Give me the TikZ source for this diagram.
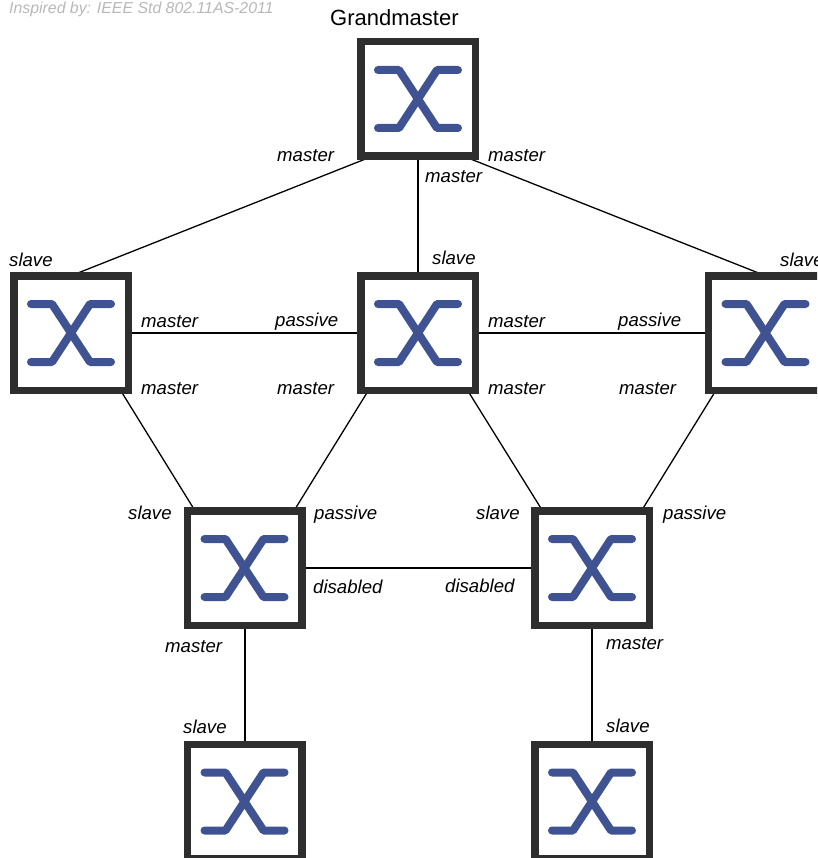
\documentclass[tikz,border=0pt]{standalone}
\usepackage{fontspec}
\setmainfont{Liberation Sans}
\usetikzlibrary{calc,backgrounds}
\definecolor{boxc}{HTML}{2E2E2E}
\definecolor{glyphc}{HTML}{3F5291}
\tikzset{
  swbox/.style={draw=boxc,fill=white,line width=7.5pt,minimum size=114.5pt,inner sep=0pt,outer sep=0pt,shape=rectangle},
  glyph/.style={draw=glyphc,line width=8pt,line cap=round,line join=round},
  thin link/.style={draw=black,line width=1.3pt},
  thick link/.style={draw=black,line width=2pt},
  lab/.style={anchor=base west,inner sep=0pt,font=\fontsize{18.6}{20}\selectfont\itshape},
  title/.style={anchor=base west,inner sep=0pt,font=\fontsize{22}{24}\selectfont},
  note/.style={anchor=base west,inner sep=0pt,text=black!28,font=\fontsize{15.85}{17}\selectfont\itshape}
}
\newcommand{\swnode}[3]{%
  \node[swbox] (#1) at (#2,#3) {};
}
\newcommand{\swglyph}[1]{%
  \draw[glyph] ($(#1)+(-40,-29)$) -- ($(#1)+(-19,-29)$) -- ($(#1)+(19,29)$) -- ($(#1)+(40,29)$);
  \draw[glyph] ($(#1)+(-40,29)$) -- ($(#1)+(-19,29)$) -- ($(#1)+(19,-29)$) -- ($(#1)+(40,-29)$);
}
\begin{document}
\begin{tikzpicture}[x=1pt,y=-1pt]
\useasboundingbox (0,0) rectangle (817,858);
\clip (0,0) rectangle (817,858);
\swnode{gm}{418}{99}
\swnode{l}{71}{333}
\swnode{c}{418}{333}
\swnode{r}{765.5}{333}
\swnode{a}{244.5}{568}
\swnode{b}{592}{568}
\swnode{p}{244.5}{801.5}
\swnode{q}{592}{801.5}
\foreach \n in {gm,l,c,r,a,b,p,q}{\swglyph{\n}}
\begin{scope}[on background layer]
\draw[thin link] ($(gm.south)+(-45.6,0)$) -- (l.north);
\draw[thick link] (gm.south) -- (c.north);
\draw[thin link] ($(gm.south)+(45.6,0)$) -- (r.north);
\draw[thick link] (l.east) -- (c.west);
\draw[thick link] (c.east) -- (r.west);
\draw[thin link] ($(l.south)+(49.5,0)$) -- ($(a.north)+(-49.5,0)$);
\draw[thin link] ($(c.south)+(-49.5,0)$) -- ($(a.north)+(49.5,0)$);
\draw[thin link] ($(c.south)+(49.5,0)$) -- ($(b.north)+(-49.5,0)$);
\draw[thin link] ($(r.south)+(-49.5,0)$) -- ($(b.north)+(49.5,0)$);
\draw[thick link] (a.east) -- (b.west);
\draw[thick link] (a.south) -- (p.north);
\draw[thick link] (b.south) -- (q.north);
\end{scope}
\node[note] (n0) at (9,14) {Inspired by: IEEE Std 802.11AS-2011};
\node[title] (t0) at (330,26) {Grandmaster};
\node[lab] (n1) at (277,162) {master};
\node[lab] (n2) at (488,162) {master};
\node[lab] (n3) at (425,183) {master};
\node[lab] (n4) at (9,266.5) {slave};
\node[lab] (n5) at (432,265) {slave};
\node[lab] (n6) at (780,266) {slave};
\node[lab] (n7) at (141,327) {master};
\node[lab] (n8) at (275,326) {passive};
\node[lab] (n9) at (488,327) {master};
\node[lab] (n10) at (618,326) {passive};
\node[lab] (n11) at (141,394) {master};
\node[lab] (n12) at (277,394) {master};
\node[lab] (n13) at (488,394) {master};
\node[lab] (n14) at (619,394) {master};
\node[lab] (n15) at (128,519) {slave};
\node[lab] (n16) at (314,519) {passive};
\node[lab] (n17) at (476,519) {slave};
\node[lab] (n18) at (663,519) {passive};
\node[lab] (n19) at (313,593) {disabled};
\node[lab] (n20) at (445,592) {disabled};
\node[lab] (n21) at (165,652) {master};
\node[lab] (n22) at (606,649) {master};
\node[lab] (n23) at (183,733) {slave};
\node[lab] (n24) at (606,732) {slave};
\end{tikzpicture}
\end{document}
